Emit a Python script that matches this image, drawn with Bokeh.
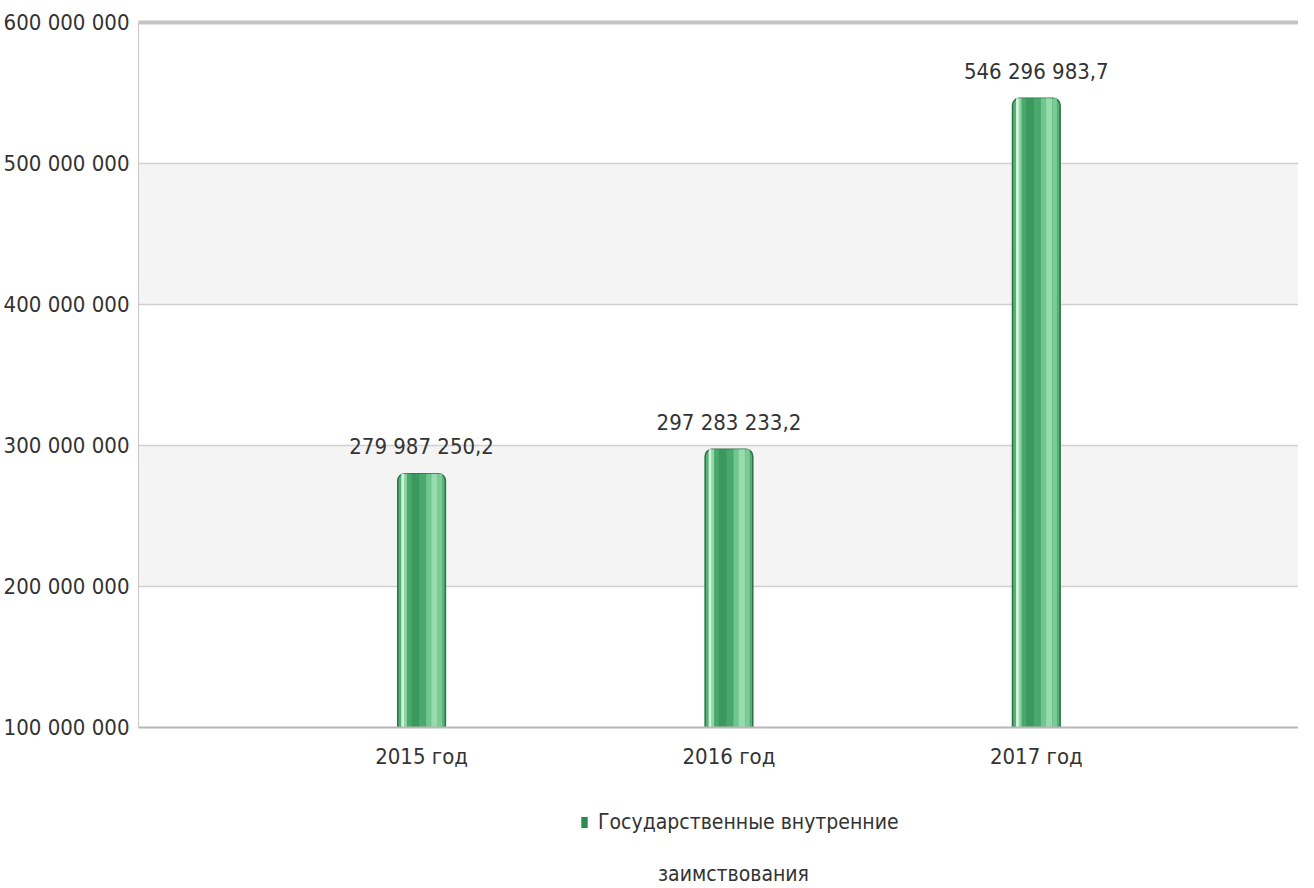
from bokeh.plotting import figure
from bokeh.layouts import column
from bokeh.models import (ColumnDataSource, Range1d, FixedTicker, LinearAxis, Legend, LegendItem,
                          Label, CustomJSTickFormatter)
from bokeh.transform import dodge
from bokeh.core.properties import value
from bokeh.embed import file_html
from bokeh.resources import INLINE

categories = ["2015 год", "2016 год", "2017 год"]
values = [279987250.2, 297283233.2, 546296983.7]
y_ticks = [100000000, 200000000, 300000000, 400000000, 500000000, 600000000]
series_name = "Государственные внутренние"
series_name2 = "заимствования"

FONT = "DejaVu Sans Condensed"
TXT = "#333333"
W_FIG = 1298

def fmt(v):
    return f"{v:,.1f}".replace(",", " ").replace(".", ",")

xs = list(range(len(categories)))
src = ColumnDataSource(dict(x=xs, top=values, label=[fmt(v) for v in values]))

p = figure(width=W_FIG, height=790, output_backend="svg", toolbar_location=None,
           x_range=Range1d(-0.921, 2.853), y_range=Range1d(100000000, 600000000),
           min_border_left=129, min_border_top=22, min_border_right=0, min_border_bottom=63)
p.outline_line_color = None
p.background_fill_color = "white"

p.xgrid.grid_line_color = None
p.ygrid.ticker = FixedTicker(ticks=y_ticks)
p.ygrid.grid_line_color = "#d0d0d0"
p.ygrid.grid_line_width = 1.5
p.ygrid.band_fill_color = "#f4f4f4"
p.ygrid.band_fill_alpha = 1

p.yaxis.ticker = FixedTicker(ticks=y_ticks)
p.yaxis.formatter = CustomJSTickFormatter(code="return tick.toFixed(0).replace(/\\B(?=(\\d{3})+(?!\\d))/g, ' ');")
p.yaxis.major_label_text_font = FONT
p.yaxis.major_label_text_font_size = "22px"
p.yaxis.major_label_text_color = TXT
p.yaxis.major_tick_line_color = None
p.yaxis.minor_tick_line_color = None
p.yaxis.axis_line_color = "#c8c8c8"
p.yaxis.major_label_standoff = 3

p.xaxis.ticker = FixedTicker(ticks=xs)
p.xaxis.major_label_overrides = {i: c for i, c in enumerate(categories)}
p.xaxis.major_label_text_font = FONT
p.xaxis.major_label_text_font_size = "22px"
p.xaxis.major_label_text_color = TXT
p.xaxis.major_tick_line_color = None
p.xaxis.minor_tick_line_color = None
p.xaxis.axis_line_color = "#b8b8b8"
p.xaxis.axis_line_width = 2
p.xaxis.major_label_standoff = 10

top_axis = LinearAxis(ticker=FixedTicker(ticks=[]), axis_line_color="#c4c4c4", axis_line_width=4,
                      major_tick_line_color=None, minor_tick_line_color=None,
                      major_label_text_font_size="0px")
p.add_layout(top_axis, "above")

W = 0.155
B = 100000000
base = p.vbar(x="x", top="top", bottom=B, width=W, source=src,
              fill_color="#55b277", line_color="#2c7046", line_width=1.5,
              border_radius=(7, 7, 0, 0))
strips = [(-0.061, 0.010, "#d2f4dc"), (-0.052, 0.010, "#8fd6a5"), (-0.040, 0.016, "#4aa86c"),
          (-0.020, 0.026, "#3b985e"), (0.004, 0.022, "#4aa86c"), (0.024, 0.018, "#70c68f"),
          (0.042, 0.020, "#98dcae"), (0.060, 0.014, "#7acb95")]
for off, w, c in strips:
    p.vbar(x=dodge("x", off, range=p.x_range), top="top", bottom=B, width=w, source=src,
           fill_color=c, line_color=None)

p.text(x="x", y="top", text="label", source=src, text_align="center", text_baseline="middle",
       y_offset=-27, text_font=value(FONT), text_font_size="22px", text_color=TXT)

# legend strip below the chart (series swatch drawn from the same data, kept out of view)
q = figure(width=W_FIG, height=94, output_backend="svg", toolbar_location=None,
           x_range=Range1d(10, 11), y_range=Range1d(1e9, 2e9),
           min_border=0, x_axis_location=None, y_axis_location=None)
q.outline_line_color = None
q.grid.visible = False
swatch = q.vbar(x="x", top="top", width=0.1, source=src, fill_color="#2f8a50", line_color=None)
legend = Legend(items=[LegendItem(label=series_name, renderers=[swatch])],
                location=(442, 50), orientation="horizontal",
                label_text_font=FONT, label_text_font_size="21px", label_text_color=TXT,
                glyph_width=8, glyph_height=14, border_line_color=None,
                background_fill_alpha=0, margin=0, padding=0, label_standoff=10)
q.add_layout(legend)
q.add_layout(Label(x=595, y=11, x_units="screen", y_units="screen", text=series_name2,
                   text_font=FONT, text_font_size="21px", text_color=TXT,
                   text_align="center", text_baseline="middle"))

open("out.html", "w").write(file_html(column(p, q, spacing=0), INLINE))
